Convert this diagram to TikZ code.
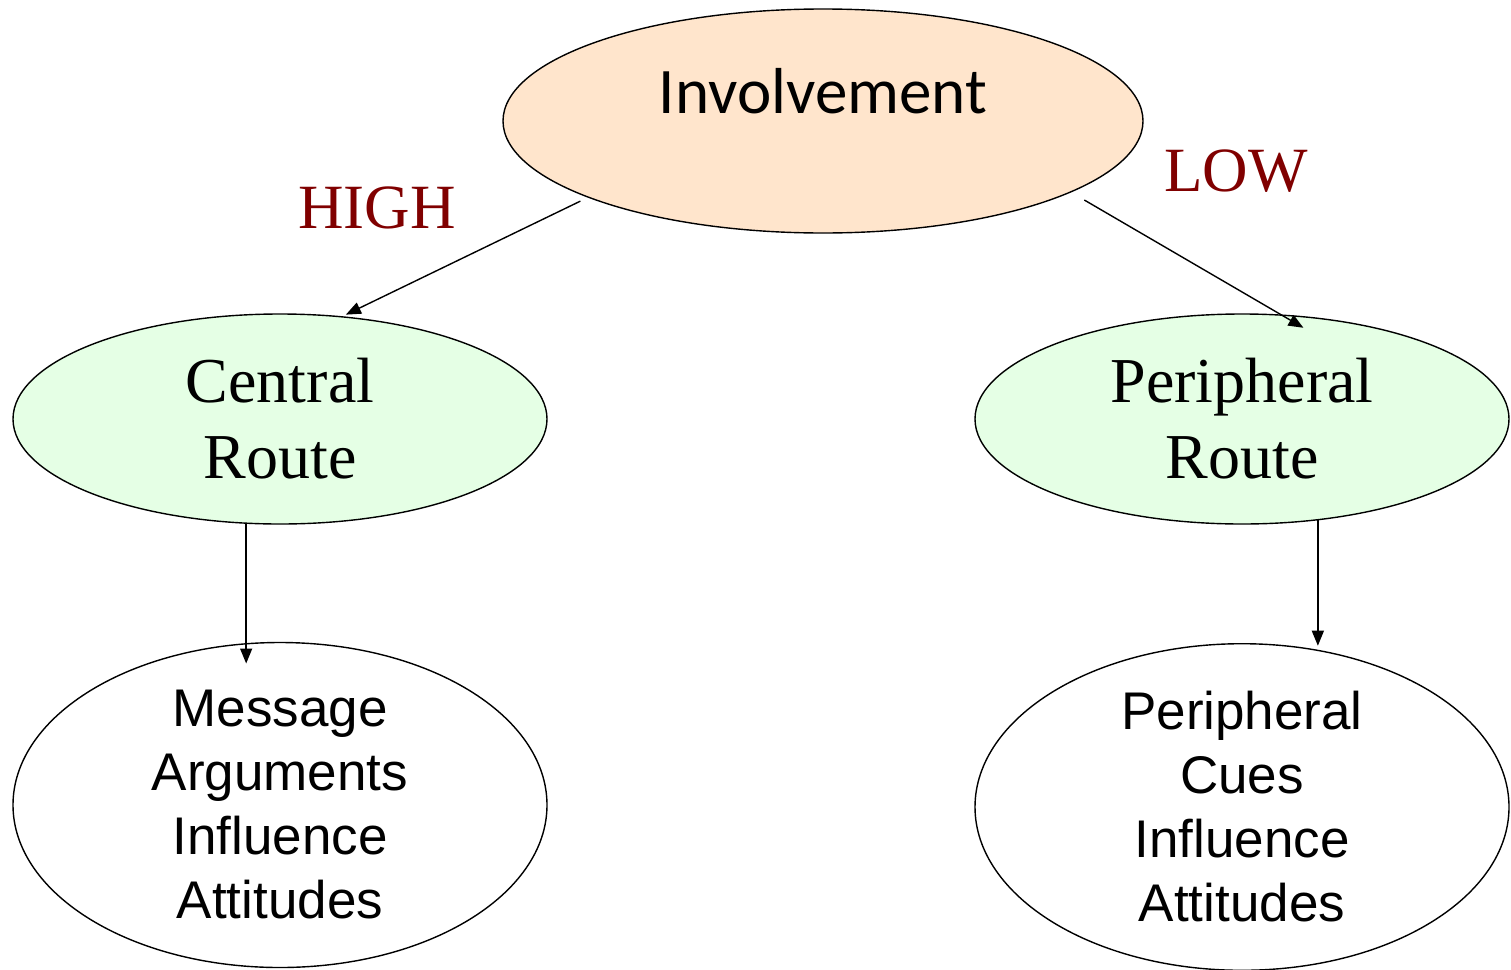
\documentclass[tikz,border=0pt]{standalone}
\usepackage{fontspec}
\usetikzlibrary{shapes.geometric,arrows.meta}
\newfontfamily\calface{Carlito}
\newfontfamily\romface{Liberation Serif}
\newfontfamily\arface{Liberation Sans}
\definecolor{peach}{HTML}{FFE5CC}
\definecolor{mint}{HTML}{E5FFE5}
\definecolor{darkred}{HTML}{800000}

\begin{document}
\begin{tikzpicture}[x=1pt,y=-1pt,
  oval/.style={ellipse,draw=black,line width=1.4pt,inner sep=0pt,outer sep=0pt,align=center},
  routeoval/.style={oval,fill=mint,minimum width=534pt,minimum height=210pt,
    font=\romface\fontsize{64}{76}\selectfont},
  effectoval/.style={oval,fill=white,minimum width=534pt,minimum height=325pt,
    font=\arface\fontsize{53}{64}\selectfont},
  link/.style={line width=1.4pt,-{Triangle[length=15pt,width=12pt]}},
  level/.style={text=darkred,font=\romface\fontsize{63}{75}\selectfont,inner sep=0pt}]
\useasboundingbox (0,0) rectangle (1511,969);

% top node
\node[oval,fill=peach,minimum width=640pt,minimum height=224pt,
      font=\calface\fontsize{65}{78}\selectfont,text height=42pt,text depth=58pt]
      (inv) at (823,121) {Involvement};

% the two routes
\node[routeoval] (cr) at (280,419) {Central\\Route};
\node[routeoval] (pr) at (1242,419) {Peripheral\\Route};

% their effects
\node[effectoval] (msg) at (280,805) {Message\\Arguments\\Influence\\Attitudes};
\node[effectoval] (pc) at (1242,807) {Peripheral\\Cues\\Influence\\Attitudes};

% level labels
\node[level] (high) at (377,208) {HIGH};
\node[level] (low) at (1236,171) {LOW};

% connectors
\draw[link,shorten <=9pt,shorten >=5pt] (inv.198.4) -- (cr.59);
\draw[link,shorten <=16pt,shorten >=-25pt] (inv.-16.7) -- (pr.69.8);
\draw[link,shorten >=-21pt] (cr.252.4) -- (cr.252.4 |- msg.north);
\draw[link,shorten >=-2pt] (pr.-53) -- (pr.-53 |- pc.north);
\end{tikzpicture}
\end{document}
